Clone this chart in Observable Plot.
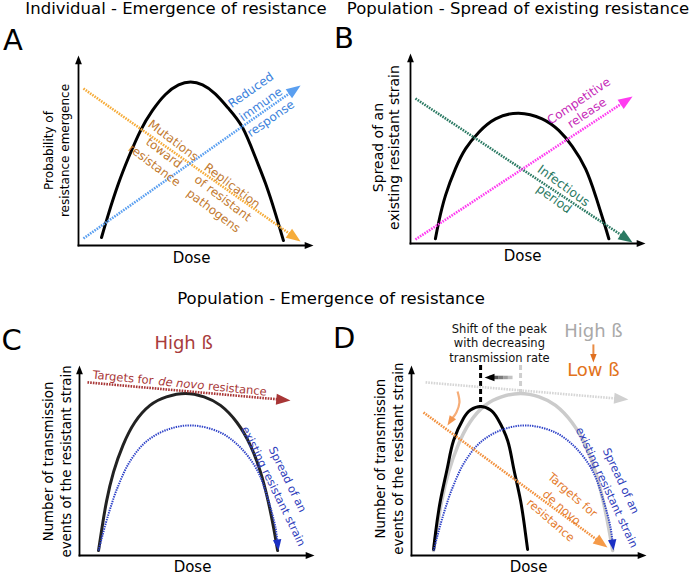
<!DOCTYPE html>
<html><head><meta charset="utf-8">
<script src="https://cdn.jsdelivr.net/npm/d3@7"></script>
<script src="https://cdn.jsdelivr.net/npm/@observablehq/plot@0.6"></script>
<style>
body{margin:0;background:#fff;font-family:"DejaVu Sans",sans-serif;}
#fig{position:relative;width:695px;height:575px;overflow:hidden;background:#fff;}
.abs{position:absolute;white-space:nowrap;color:#000;line-height:1;}
.title{font-size:16.5px;transform:translateX(-50%);}
.letter{font-size:29px;}
.panel{position:absolute;}
.panel svg{overflow:visible;}
</style></head><body>
<div id="fig">
  <div class="abs title" style="left:176px;top:1px">Individual - Emergence of resistance</div>
  <div class="abs title" style="left:518px;top:1px">Population - Spread of existing resistance</div>
  <div class="abs title" style="left:331px;top:291px">Population - Emergence of resistance</div>
  <div class="abs letter" style="left:3px;top:25.5px">A</div>
  <div class="abs letter" style="left:334px;top:23.5px">B</div>
  <div class="abs letter" style="left:1.5px;top:325.5px">C</div>
  <div class="abs letter" style="left:333px;top:323.5px">D</div>
  <div id="pA" class="panel" style="left:0px;top:40px"></div>
  <div id="pB" class="panel" style="left:345px;top:38px"></div>
  <div id="pC" class="panel" style="left:0px;top:310px"></div>
  <div id="pD" class="panel" style="left:345px;top:310px"></div>
</div>
<script>
// ---------- data (dose on x, response on y; arbitrary units 0-10) ----------
// Panel A: individual emergence
const doseA = [0.98,1.28,1.70,2.13,2.64,3.15,3.70,4.26,4.77,5.28,5.83,6.38,6.98,7.53,7.96,8.38,8.72];
const emergenceA = [0.42,1.68,3.26,4.63,6.05,7.11,7.95,8.45,8.60,8.45,7.97,7.22,6.21,4.63,3.26,1.68,0.26];
const mutationArrowA = [[0.21,8.26],[9.45,0.21]];
const immuneArrowA = [[0.21,0.37],[9.45,8.42]];
// Panel B: spread of existing resistance
const doseB = [1.06,1.20,1.49,1.91,2.34,2.91,3.62,4.60,5.60,6.31,6.89,7.45,7.87,8.23,8.44];
const spreadB = [0.25,1.12,2.53,3.93,4.98,5.86,6.56,6.86,6.56,5.95,5.10,3.93,2.53,1.12,0.25];
const infectiousArrowB = [[0.21,7.63],[9.45,0.05]];
const releaseArrowB = [[0.21,0.21],[9.45,7.74]];
// Panel C: high transmission rate
const doseC = [0.81,0.95,1.15,1.45,1.85,2.35,3.00,3.70,4.51,5.30,6.00,6.70,7.27,7.70,8.03,8.27,8.43];
const eventsC = [0.26,1.40,2.85,4.40,5.80,7.00,7.90,8.35,8.53,8.35,7.90,7.00,5.80,4.40,2.85,1.40,0.26];
const spreadDoseC = [0.81,1.19,1.62,2.17,2.89,3.87,4.85,6.00,6.85,7.57,8.00,8.34,8.47];
const spreadC = [0.26,2.00,3.58,5.00,6.05,6.68,6.84,6.47,5.68,4.47,3.05,1.47,0.26];
const targetsArrowC = [[0.34,9.11],[8.98,8.16]];
// Panel D: decreasing transmission rate
const doseLowD = [0.94,1.02,1.23,1.53,1.79,2.21,2.51,2.94,3.36,3.66,4.09,4.34,4.64,4.85,4.94];
const eventsLowD = [0.32,1.16,2.89,4.63,6.05,7.21,7.66,7.84,7.66,7.21,6.05,4.63,2.89,1.16,0.32];
const doseHighD = [0.94,1.08,1.28,1.58,1.98,2.48,3.13,3.83,4.64,5.43,6.13,6.83,7.40,7.83,8.16,8.40,8.56];
const eventsHighD = [0.26,1.40,2.85,4.40,5.80,7.00,7.90,8.35,8.53,8.35,7.90,7.00,5.80,4.40,2.85,1.40,0.26];
const spreadDoseD = [0.94,1.32,1.75,2.30,3.02,4.00,4.98,6.13,6.98,7.70,8.13,8.47,8.60];
const spreadD = [0.26,2.00,3.58,5.00,6.05,6.68,6.84,6.47,5.68,4.47,3.05,1.47,0.26];
const targetsArrowD = [[0.51,7.53],[8.34,0.42]];
const highBetaArrowD = [[0.60,9.11],[9.23,8.21]];
const peakShiftD = [[4.30,9.37],[3.11,9.37]];
const curvedArrowD = [[1.96,8.63],[2.04,8.05],[1.91,7.53],[1.70,7.16],[1.53,6.84]];
const betaArrowD = [[7.74,11.11],[7.74,10.16]];
const peaksD = [{x:2.94, top:10, y:7.84}, {x:4.64, top:10, y:8.53}];

// ---------- helpers ----------
const FW = 235, FH = 190, KX = FW / 10, KY = FH / 10;
const FONT = "DejaVu Sans";
const headShape = {
  draw(ctx, size) {
    const r = Math.sqrt(size / Math.PI);
    const L = 2.2 * r, w = 0.85 * r;
    ctx.moveTo(0, 0); ctx.lineTo(w, L); ctx.lineTo(-w, L); ctx.closePath();
  }
};
function headGeom(x1, y1, x2, y2, r) {
  const dxp = (x2 - x1) * KX, dyp = -(y2 - y1) * KY;
  const len = Math.hypot(dxp, dyp), nx = dxp / len, ny = dyp / len;
  const back = 0.7 * 2.2 * r;
  return {ex: x2 - nx * back / KX, ey: y2 + ny * back / KY, rot: Math.atan2(nx, -ny) * 180 / Math.PI};
}
function arrowMarks(pts, {stroke, head = stroke, width = 2.6, dash = null, r = 6, curve = "linear", cap = "butt"}) {
  const n = pts.length;
  const [x1, y1] = pts[n - 2], [x2, y2] = pts[n - 1];
  const g = headGeom(x1, y1, x2, y2, r);
  const line = pts.slice(0, n - 1).concat([[g.ex, g.ey]]);
  return [
    Plot.line(line, {x: d => d[0], y: d => d[1], stroke, strokeWidth: width, strokeDasharray: dash, curve, strokeLinecap: cap}),
    Plot.dot([[x2, y2]], {x: d => d[0], y: d => d[1], symbol: headShape, r, fill: head, stroke: "none", rotate: g.rot})
  ];
}
const DOT = "1.6,1.1";
function axes() {
  return [
    ...arrowMarks([[0, 0], [0, 10]], {stroke: "#000", width: 1.8, r: 4, cap: "square"}),
    ...arrowMarks([[0, 0], [10, 0]], {stroke: "#000", width: 1.8, r: 4, cap: "square"})
  ];
}
function curve(xs, ys, opts) {
  return Plot.line(xs.map((x, i) => [x, ys[i]]), {x: d => d[0], y: d => d[1], curve: "natural", ...opts});
}
function txt(t, x, y, opts) {
  return Plot.text([{t, x, y}], {x: "x", y: "y", text: "t", textAnchor: "middle", lineAnchor: "middle", ...opts});
}
function ylab(t, y, dx, size, lh) {
  return Plot.text([{t, y}], {y: "y", text: "t", frameAnchor: "left", textAnchor: "middle", lineAnchor: "middle", dx, rotate: -90, fontSize: size, lineHeight: lh, fill: "#000"});
}
function xlab(x, dy) {
  return Plot.text([{t: "Dose", x}], {x: "x", text: "t", frameAnchor: "bottom", textAnchor: "middle", lineAnchor: "middle", dy, fontSize: 15, fill: "#000"});
}
function makePlot(id, m, marks) {
  const p = Plot.plot({
    width: m.l + FW + m.r, height: m.t + FH + m.b,
    marginLeft: m.l, marginRight: m.r, marginTop: m.t, marginBottom: m.b,
    x: {domain: [0, 10], axis: null},
    y: {domain: [0, 10], axis: null},
    style: {fontFamily: FONT, background: "transparent", overflow: "visible"},
    marks
  });
  document.getElementById(id).appendChild(p);
}

// ---------- Panel A ----------
makePlot("pA", {l: 78, r: 32, t: 15, b: 30}, [
  curve(doseA, emergenceA, {stroke: "#000", strokeWidth: 3}),
  ...arrowMarks(mutationArrowA, {stroke: "#f6ac3a", dash: DOT, r: 6.5}),
  ...arrowMarks(immuneArrowA, {stroke: "#5a9ff0", dash: DOT, r: 6.5}),
  ...axes(),
  txt("Reduced\nimmune\nresponse", 7.72, 7.50, {rotate: -35, fontSize: 12, lineHeight: 1.45, fill: "#3c82dc"}),
  txt("Mutations\ntoward\nresistance", 3.66, 4.92, {rotate: 37, fontSize: 12, lineHeight: 1.3, fill: "#c27a30"}),
  txt("Replication\nof resistant\npathogens", 6.17, 2.53, {rotate: 37, fontSize: 12, lineHeight: 1.3, fill: "#c27a30"}),
  ylab("Probability of\nresistance emergence", 5.0, -23, 12, 1.35),
  xlab(4.81, 13)
]);

// ---------- Panel B ----------
makePlot("pB", {l: 65, r: 50, t: 15, b: 30}, [
  curve(doseB, spreadB, {stroke: "#000", strokeWidth: 3}),
  ...arrowMarks(infectiousArrowB, {stroke: "#2b7a63", dash: DOT, r: 6.5}),
  ...arrowMarks(releaseArrowB, {stroke: "#ff3cf0", dash: DOT, r: 6.5}),
  ...axes(),
  txt("Competitive\nrelease", 7.32, 7.21, {rotate: -34, fontSize: 12, lineHeight: 1.2, fill: "#c62ab8"}),
  txt("Infectious\nperiod", 6.34, 2.74, {rotate: 36, fontSize: 12.5, lineHeight: 1.3, fill: "#2b7a63"}),
  ylab("Spread of an\nexisting resistant strain", 5.05, -25, 14, 1.15),
  xlab(4.77, 13)
]);

// ---------- Panel C ----------
makePlot("pC", {l: 79, r: 31, t: 55, b: 20}, [
  curve(doseC, eventsC, {stroke: "#222", strokeWidth: 3}),
  ...arrowMarks(spreadDoseC.map((x, i) => [x, spreadC[i]]), {stroke: "#2f43c8", head: "#1b30c4", width: 2, dash: "1.4,1", r: 5, curve: "catmull-rom"}),
  ...arrowMarks(targetsArrowC, {stroke: "#a83636", dash: DOT, r: 6.5}),
  ...axes(),
  txt("High ß", 4.43, 11.16, {fontSize: 18, fill: "#a83c3c"}),
  txt("Targets for", 1.85, 9.35, {rotate: 5.6, fontSize: 11.5, fill: "#a83636"}),
  txt("de novo", 4.33, 9.05, {rotate: 5.6, fontSize: 11.5, fill: "#a83636", fontStyle: "italic"}),
  txt("resistance", 6.72, 8.76, {rotate: 5.6, fontSize: 11.5, fill: "#a83636"}),
  txt("Spread of an\nexisting resistant strain", 8.60, 3.85, {rotate: 64, fontSize: 11.2, lineHeight: 1.4, fill: "#3040bc"}),
  ylab("Number of transmission\nevents of the resistant strain", 4.95, -23, 13.3, 1.35),
  xlab(4.81, 12)
]);

// ---------- Panel D ----------
const shiftGrad = d3.range(6).map(i => {
  const [a, b] = peakShiftD;
  const t0 = i / 6, t1 = (i + 1) / 6;
  return {x1: a[0] + (b[0] - a[0]) * t0, x2: a[0] + (b[0] - a[0]) * t1, y: a[1], c: d3.interpolateRgb("#e6e6e6", "#111")(t1)};
});
makePlot("pD", {l: 66, r: 49, t: 55, b: 20}, [
  Plot.ruleX(peaksD, {x: "x", y1: "top", y2: "y", stroke: (d, i) => i ? "#cfcfcf" : "#000", strokeWidth: 3, strokeDasharray: "5,3"}),
  Plot.link(shiftGrad.slice(0, 5), {x1: "x1", x2: "x2", y1: "y", y2: "y", stroke: "c", strokeWidth: 3.5}),
  ...arrowMarks(peakShiftD, {stroke: "none", head: "#000", r: 4.5}),
  curve(doseHighD, eventsHighD, {stroke: "#cbcbcb", strokeWidth: 3.5}),
  ...arrowMarks(highBetaArrowD, {stroke: "#d6d6d6", head: "#d0d0d0", dash: DOT, r: 6.5}),
  curve(doseLowD, eventsLowD, {stroke: "#000", strokeWidth: 3}),
  ...arrowMarks(spreadDoseD.map((x, i) => [x, spreadD[i]]), {stroke: "#2f43c8", head: "#1b30c4", width: 2, dash: "1.4,1", r: 5, curve: "catmull-rom"}),
  ...arrowMarks(targetsArrowD, {stroke: "#f2913e", head: "#f59a48", dash: DOT, r: 6.5}),
  ...arrowMarks(curvedArrowD, {stroke: "#f6ad78", head: "#f39650", width: 2.2, r: 4.5, curve: "catmull-rom"}),
  ...arrowMarks(betaArrowD, {stroke: "#e98c45", head: "#e07020", width: 2, r: 3.8}),
  ...axes(),
  txt("Shift of the peak\nwith decreasing\ntransmission rate", 3.74, 11.21, {fontSize: 11.5, lineHeight: 1.28, fill: "#111"}),
  txt("High ß", 7.74, 11.79, {fontSize: 18, fill: "#a9a9a9"}),
  txt("Low ß", 7.74, 9.74, {fontSize: 18, fill: "#e2731c"}),
  txt("Targets for\nde novo\nresistance", 6.43, 2.58, {rotate: 41, fontSize: 11.5, lineHeight: 1.45, fill: "#e47c30"}),
  txt("Spread of an\nexisting resistant strain", 8.66, 3.78, {rotate: 65, fontSize: 11.2, lineHeight: 1.4, fill: "#3040bc"}),
  ylab("Number of transmission\nevents of the resistant strain", 5.1, -23.5, 13.3, 1.35),
  xlab(4.98, 12)
]);
</script>
</body></html>
